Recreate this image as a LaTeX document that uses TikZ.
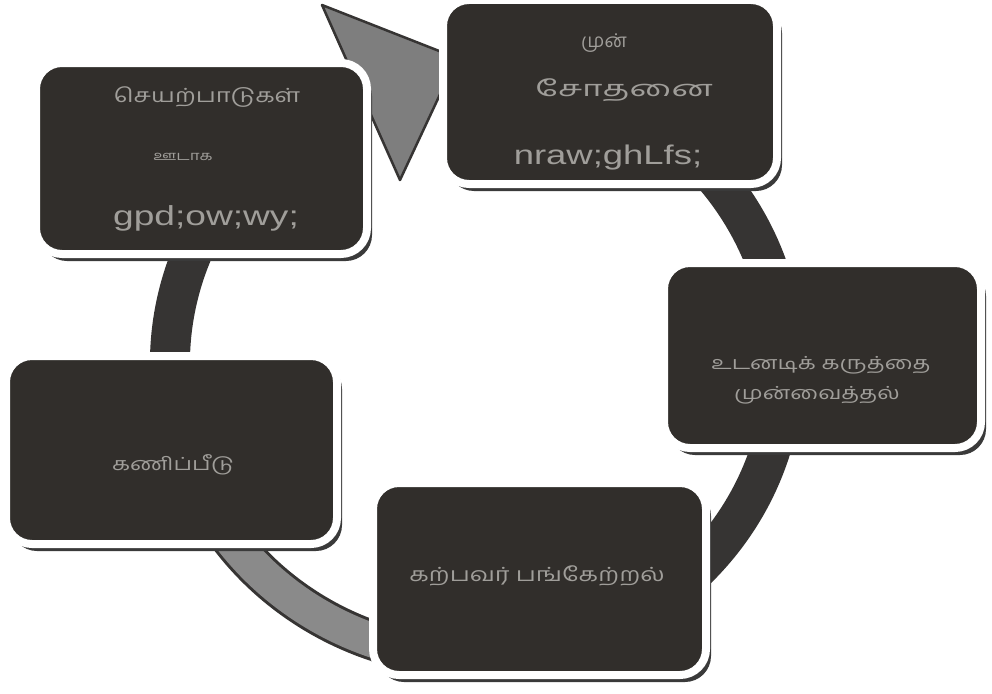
\documentclass[tikz,border=0pt]{standalone}
\usepackage{fontspec}
\setmainfont{Liberation Sans}
\newfontfamily\tamilf[Script=Tamil,FakeStretch=1.3]{Hind Madurai}
\newfontfamily\tamilw[Script=Tamil,FakeStretch=1.6]{Hind Madurai}
\newfontfamily\tamiln[Script=Tamil]{Hind Madurai}
\newfontfamily\latnf[FakeStretch=1.35]{Liberation Sans}
\usetikzlibrary{shadows}
\definecolor{boxfill}{HTML}{312E2B}
\definecolor{ringdark}{HTML}{363433}
\definecolor{ringgrey}{HTML}{8A8A8A}
\definecolor{headgrey}{HTML}{7E7E7E}
\definecolor{txt}{HTML}{A09E9A}
\definecolor{shad}{HTML}{3A3A3A}
\begin{document}
\begin{tikzpicture}[x=1pt,y=1pt,
  stepbox/.style={rectangle, rounded corners=26pt, fill=boxfill, draw=white,
    line width=8pt, inner sep=0pt,
    drop shadow={shadow xshift=5pt, shadow yshift=-7pt, fill=shad, opacity=1}},
  tl/.style={text=txt, inner sep=0pt},
  ta/.style={tl, font=\tamilf\fontsize{#1}{#1}\selectfont},
  taw/.style={tl, font=\tamilw\fontsize{#1}{#1}\selectfont},
  tan/.style={tl, font=\tamiln\fontsize{#1}{#1}\selectfont},
  tb/.style={tl, font=\latnf\fontsize{#1}{#1}\selectfont},
  ringseg/.style={line width=40pt, ringdark}]
\fill[white] (0,0) rectangle (992,-693);
\useasboundingbox (0,0) rectangle (992,-693);
% ring (continuous cycle arrow)
\coordinate (c) at (477,-363);
\draw[ringseg] ([shift={(113:307 and 295)}]c) arc[start angle=113, end angle=200, x radius=307, y radius=295];
\draw[ringseg] ([shift={(200:307 and 295)}]c) arc[start angle=200, end angle=262, x radius=307, y radius=295];
\draw[line width=34pt, ringgrey] ([shift={(200:307 and 295)}]c) arc[start angle=200, end angle=262, x radius=307, y radius=295];
\draw[ringseg] ([shift={(262:307 and 295)}]c) arc[start angle=262, end angle=440, x radius=307, y radius=295];
% arrowhead
\coordinate (ah1) at (322,-5);
\coordinate (ah2) at (457,-58);
\coordinate (ah3) at (400,-180);
\filldraw[fill=headgrey, draw=ringdark, line width=2.5pt, line join=round] (ah1) -- (ah2) -- (ah3) -- cycle;
% boxes
\node[stepbox, minimum width=334, minimum height=184] (n1) at (610,-92) {};
\node[stepbox, minimum width=331, minimum height=191] (n2) at (201.5,-158.5) {};
\node[stepbox, minimum width=317, minimum height=185] (n3) at (822.5,-355.5) {};
\node[stepbox, minimum width=331, minimum height=188] (n4) at (171.5,-450) {};
\node[stepbox, minimum width=333, minimum height=192] (n5) at (539.5,-579) {};
% texts
\node[tan=19] (t1a) at (604,-43) {முன்};
\node[taw=22] (t1b) at (624,-90) {சோதனை};
\node[tb=27] (t1c) at (608,-158) {nraw;ghLfs;};
\node[ta=19.5] (t2a) at (207,-97) {செயற்பாடுகள்};
\node[ta=13] (t2b) at (183,-157) {ஊடாக};
\node[tb=27.5] (t2c) at (206,-218) {gpd;ow;wy;};
\node[ta=18] (t3a) at (821,-365) {உடனடிக் கருத்தை};
\node[ta=18] (t3b) at (817,-395) {முன்வைத்தல்};
\node[ta=18] (t4) at (173,-465) {கணிப்பீடு};
\node[ta=19.5] (t5) at (537,-576) {கற்பவர் பங்கேற்றல்};
\end{tikzpicture}
\end{document}
